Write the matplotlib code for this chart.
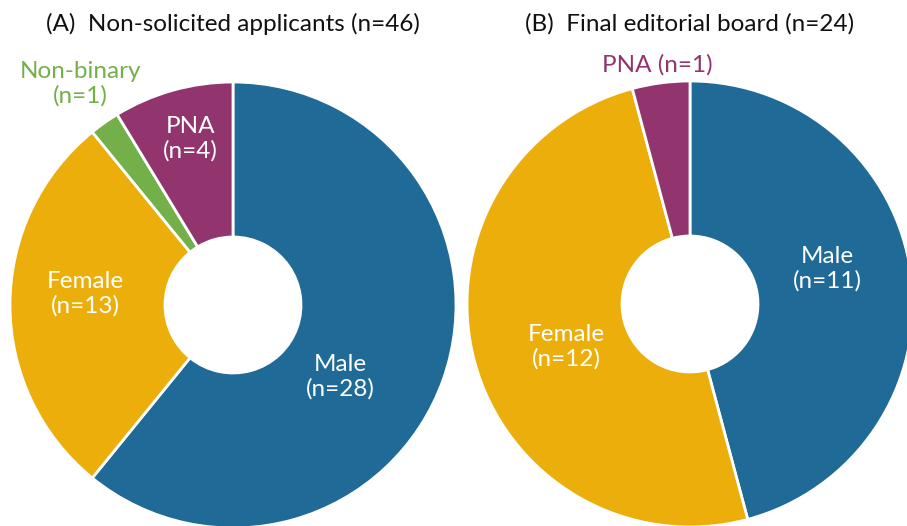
import matplotlib.pyplot as plt

# (A) non-solicited applicants
labels_a = ['Male', 'Female', 'Non-binary', 'PNA']
counts_a = [28, 13, 1, 4]
# (B) final editorial board
labels_b = ['Male', 'Female', 'PNA']
counts_b = [11, 12, 1]

colors = {'Male': '#1f6a96', 'Female': '#ecae0b',
          'Non-binary': '#73b04a', 'PNA': '#92356f'}

plt.rcParams['font.family'] = ['Lato', 'DejaVu Sans']

W, H = 907, 526
fig = plt.figure(figsize=(W / 100, H / 100), dpi=100)
ax = fig.add_axes([0, 0, 1, 1])
ax.set_xlim(0, W)
ax.set_ylim(0, H)
ax.set_aspect('equal')
ax.axis('off')

R = 223
hole = 68
centers = {'A': (233, H - 305), 'B': (690, H - 304)}

for key, labs, vals in [('A', labels_a, counts_a), ('B', labels_b, counts_b)]:
    ax.pie(vals, colors=[colors[l] for l in labs], startangle=90,
           counterclock=False, center=centers[key], radius=R,
           wedgeprops=dict(width=R - hole, edgecolor='white', linewidth=2))
ax.set_xlim(0, W)
ax.set_ylim(0, H)

fs = 17.5
ax.text(233, H - 24, '(A)  Non-solicited applicants (n=%d)' % sum(counts_a),
        ha='center', va='center', fontsize=fs, color='#111111')
ax.text(690, H - 24, '(B)  Final editorial board (n=%d)' % sum(counts_b),
        ha='center', va='center', fontsize=fs, color='#111111')

# label positions (pixels from top-left)
pos_a = {'Male': (340, 377), 'Female': (85, 294),
         'Non-binary': (80, 84), 'PNA': (190, 139)}
pos_b = {'Male': (827, 269), 'Female': (566, 347)}

for labs, vals, pos in [(labels_a, counts_a, pos_a), (labels_b, counts_b, pos_b)]:
    for l, v in zip(labs, vals):
        if l not in pos:
            continue
        c = colors[l] if l == 'Non-binary' else 'white'
        x, y = pos[l]
        ax.text(x, H - y, '%s\n(n=%d)' % (l, v), ha='center', va='center',
                fontsize=fs, color=c, linespacing=1.15)

ax.text(657, H - 65, 'PNA (n=%d)' % counts_b[2], ha='center', va='center',
        fontsize=fs, color=colors['PNA'])

fig.savefig('out.png', dpi=100)
